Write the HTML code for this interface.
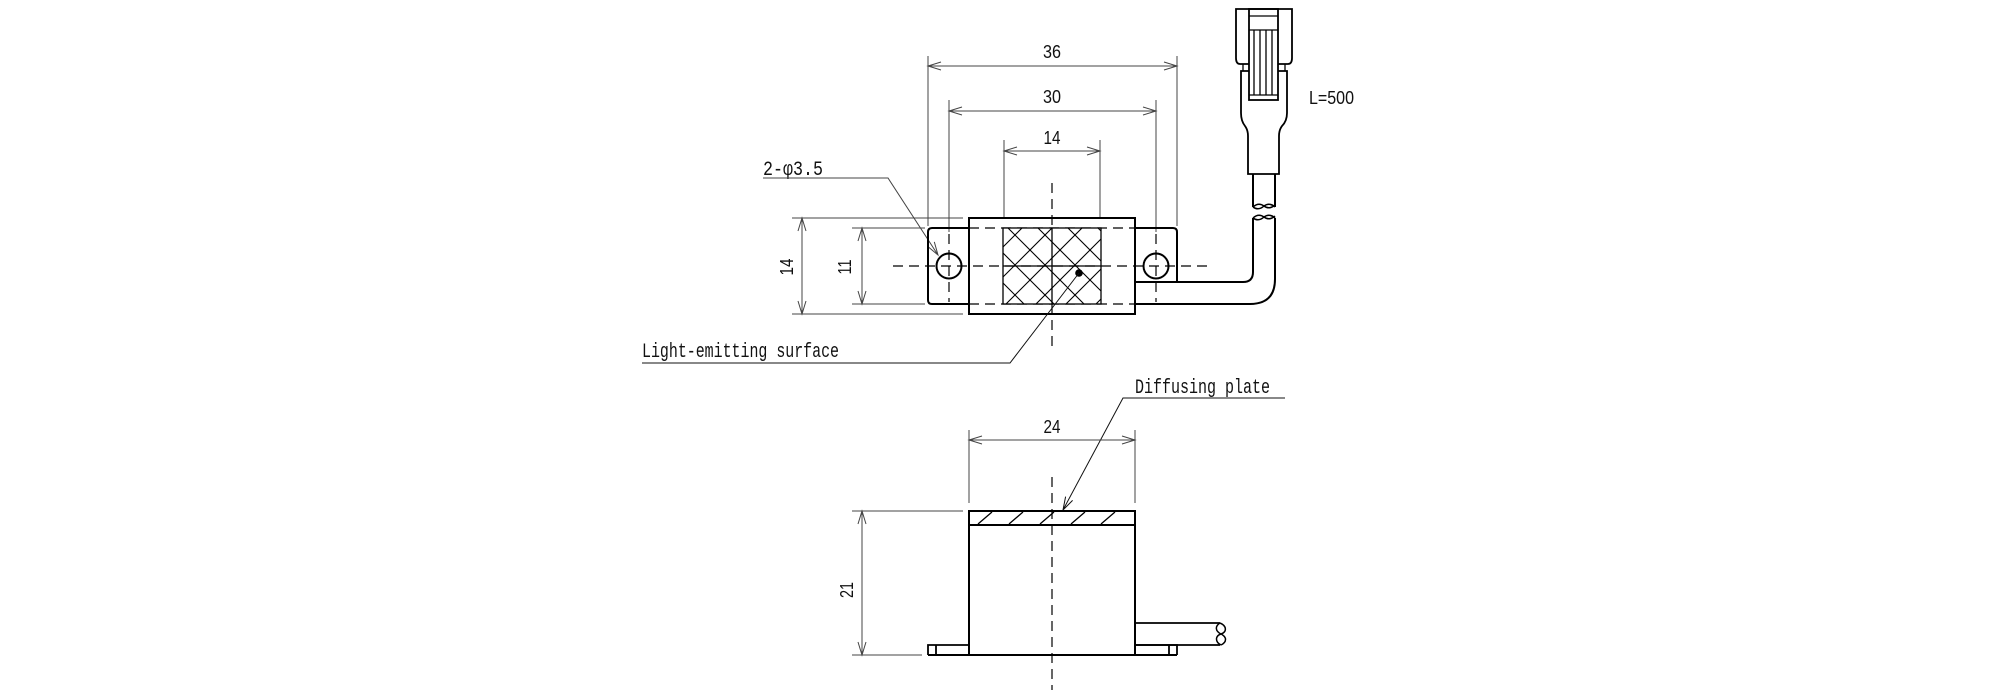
<!DOCTYPE html>
<html><head><meta charset="utf-8"><style>
html,body{margin:0;padding:0;background:#fff;}
svg{display:block;}
.o{stroke:#000;stroke-width:2;fill:none;}
.t{stroke:#000;stroke-width:1.3;fill:none;}
.d{stroke:#444;stroke-width:1;fill:none;}
.c{stroke:#000;stroke-width:1.2;fill:none;stroke-dasharray:10 6;}
.n{font-family:"Liberation Sans",sans-serif;font-size:17px;fill:#111;}
.m{font-family:"Liberation Mono","Noto Sans CJK JP",monospace;font-size:20px;fill:#111;}
</style></head><body>
<svg width="2000" height="700" viewBox="0 0 2000 700" xmlns="http://www.w3.org/2000/svg">
<defs>
<clipPath id="hc"><rect x="1003" y="228" width="98" height="76"/></clipPath>
</defs>

<!-- ===== TOP VIEW ===== -->
<path class="d" d="M928,56 V226 M1177,56 V226 M928,66 H1177 M941,62 L928,66 L941,70 M1164,62 L1177,66 L1164,70"/>
<text class="n" x="1052" y="58" text-anchor="middle" textLength="18" lengthAdjust="spacingAndGlyphs" style="font-size:18px">36</text>
<path class="d" d="M949,100 V232 M1156,100 V232 M949,111 H1156 M962,107 L949,111 L962,115 M1143,107 L1156,111 L1143,115"/>
<text class="n" x="1052" y="103" text-anchor="middle" textLength="18" lengthAdjust="spacingAndGlyphs" style="font-size:18px">30</text>
<path class="d" d="M1004,140 V218 M1100,140 V218 M1004,151 H1100 M1017,147 L1004,151 L1017,155 M1087,147 L1100,151 L1087,155"/>
<text class="n" x="1052" y="144" text-anchor="middle" textLength="17" lengthAdjust="spacingAndGlyphs" style="font-size:18px">14</text>

<path class="d" d="M792,218 H963 M792,314 H963 M802,218 V314 M798,231 L802,218 L806,231 M798,301 L802,314 L806,301"/>
<text class="n" transform="translate(793,267) rotate(-90)" text-anchor="middle" textLength="17" lengthAdjust="spacingAndGlyphs" style="font-size:18px">14</text>
<path class="d" d="M852,228 H925 M852,304 H925 M862,228 V304 M858,241 L862,228 L866,241 M858,291 L862,304 L866,291"/>
<text class="n" transform="translate(851,267) rotate(-90)" text-anchor="middle" textLength="15" lengthAdjust="spacingAndGlyphs" style="font-size:18px">11</text>

<text class="m" x="763" y="175" textLength="60" lengthAdjust="spacingAndGlyphs">2-φ3.5</text>
<path class="d" d="M763,178 H888 L938,255 M927.5,246.3 L938,255 L934.3,241.9"/>

<path class="o" d="M969,228 H932 Q928,228 928,232 V300 Q928,304 932,304 H969"/>
<path class="o" d="M1135,228 H1173 Q1177,228 1177,232 V282"/>
<rect class="o" x="969" y="218" width="166" height="96"/>
<path class="c" d="M969,228 H1135 M969,304 H1135" style="stroke-width:1.2"/>
<circle class="o" cx="949" cy="266" r="12.5"/>
<circle class="o" cx="1156" cy="266" r="12.5"/>
<path class="c" d="M949,234 V302 M1156,234 V302"/>

<rect x="1003" y="228" width="98" height="76" fill="#fff" stroke="#000" stroke-width="1.3"/>
<g clip-path="url(#hc)" class="t" style="stroke-width:1.1">
<path d="M1003,223 L1100,320 M973,223 L1070,320 M943,223 L1040,320 M1033,223 L1130,320 M1063,223 L1160,320 M1093,223 L1190,320 M913,223 L1010,320"/>
<path d="M1027,223 L930,320 M1057,223 L960,320 M1087,223 L990,320 M1117,223 L1020,320 M1147,223 L1050,320 M1177,223 L1080,320 M1207,223 L1110,320"/>
</g>
<path class="t" d="M1003,266 H1101 M1052,228 V304"/>

<path class="c" d="M893,266 H1210"/>
<path class="c" d="M1052,183 V228 M1052,304 V352"/>

<circle cx="1079" cy="273" r="3.8" fill="#000"/>
<path class="d" style="stroke:#111" d="M1079,273 L1010,363 H642"/>
<text class="m" x="642" y="357" textLength="197" lengthAdjust="spacingAndGlyphs">Light-emitting surface</text>

<path class="o" d="M1135,282 H1243 Q1253,282 1253,272 V218"/>
<path class="o" d="M1135,304 H1250 Q1275,304 1275,279 V218"/>
<path class="t" style="stroke-width:1.5" d="M1253,218 Q1258.5,213 1264,217 Q1269.5,221 1275,216 M1253,218 Q1258.5,222 1264,217 Q1269.5,213 1275,218"/>
<path class="o" d="M1253,174 V207 M1275,174 V207"/>
<path class="t" style="stroke-width:1.5" d="M1253,207 Q1258.5,202 1264,206 Q1269.5,210 1275,205 M1253,207 Q1258.5,211 1264,206 Q1269.5,202 1275,207"/>

<path class="o" style="stroke-width:1.8" d="M1249,64 H1240 Q1236,64 1236,58 V9 H1292 V58 Q1292,64 1288,64 H1278"/>
<rect class="o" style="stroke-width:1.8" x="1249" y="9" width="29" height="91"/>
<path class="t" d="M1249,16 H1278 M1249,30 H1278 M1249,95 H1278 M1254,30 V95 M1260,30 V95 M1266,30 V95 M1272,30 V95"/>
<path class="t" d="M1243,64 V71 M1285,64 V71"/>
<path class="o" style="stroke-width:1.8" d="M1249,71 H1241 V113 Q1241,121 1245,126 Q1248,130 1248,136 V174 H1279 V136 Q1279,130 1282,126 Q1287,121 1287,113 V71 H1278"/>
<text class="n" x="1309" y="104" textLength="45" lengthAdjust="spacingAndGlyphs" style="font-size:18px">L=500</text>

<!-- ===== FRONT VIEW ===== -->
<text class="m" x="1135" y="393" textLength="135" lengthAdjust="spacingAndGlyphs">Diffusing plate</text>
<path class="d" style="stroke:#111" d="M1285,398 H1123 L1063,510 M1065.6,496.6 L1063,510 L1072.6,500.4"/>
<path class="d" d="M969,430 V503 M1135,430 V503 M969,440 H1135 M982,436 L969,440 L982,444 M1122,436 L1135,440 L1122,444"/>
<text class="n" x="1052" y="433" text-anchor="middle" textLength="17" lengthAdjust="spacingAndGlyphs" style="font-size:18px">24</text>
<rect class="o" x="969" y="511" width="166" height="144"/>
<path class="o" d="M969,525 H1135"/>
<path class="t" d="M978,524 L992,512 M1009,524 L1023,512 M1040,524 L1054,512 M1071,524 L1085,512 M1101,524 L1115,512"/>
<path class="o" style="stroke-width:1.8" d="M969,645 H928 V655 M936,645 V655 M1135,645 H1177 V655 M1169,645 V655"/>
<path class="o" d="M928,655 H1177"/>
<path class="o" style="stroke-width:1.8" d="M1135,623 H1220 M1135,645 H1220"/>
<path class="t" style="stroke-width:1.5" d="M1220,623 C1227,626 1227,632 1221,634 C1215,636 1215,642 1221,645 M1220,623 C1215,626 1215,631 1221,634 C1227,637 1227,642 1221,645"/>
<path class="d" d="M852,511 H963 M852,655 H922 M862,511 V655 M858,524 L862,511 L866,524 M858,642 L862,655 L866,642"/>
<text class="n" transform="translate(853,590) rotate(-90)" text-anchor="middle" textLength="16" lengthAdjust="spacingAndGlyphs" style="font-size:18px">21</text>
<path class="c" d="M1052,477 V690"/>
</svg>
</body></html>
